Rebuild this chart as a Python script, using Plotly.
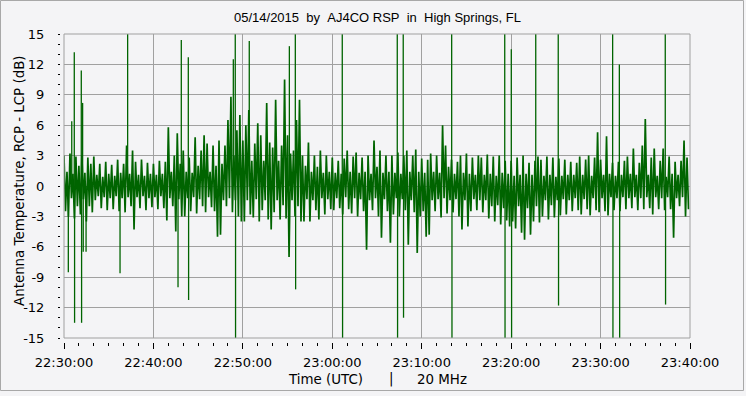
import plotly.graph_objects as go
import pandas as pd

# ---------------- data ----------------
start_time = "2015-05-14 22:30:00"
end_time = "2015-05-14 23:40:00"
band_step_s = 20  # envelope samples every 20 s; hi at t, lo at t+10 s

band_hi = [
    3.0, 1.4, 3.2, 1.2, 2.9, 2.0, 3.0, 1.3, 2.8, 2.2,
    2.9, 1.1, 2.2, 0.9, 2.4, 1.2, 2.1, 1.0, 2.6, 1.3,
    2.2, 4.0, 1.2, 3.5, 2.4, 1.1, 2.6, 1.0, 2.3, 1.2,
    2.2, 1.1, 2.5, 1.2, 2.4, 5.8, 1.4, 3.0, 5.2, 2.2,
    3.5, 1.4, 2.8, 1.3, 4.8, 2.0, 3.5, 5.0, 4.2, 1.4,
    4.0, 2.0, 4.5, 2.2, 4.0, 6.5, 8.8, 3.0, 5.5, 7.0,
    4.5, 6.0, 7.5, 2.5, 4.2, 6.2, 5.0, 2.5, 8.2, 4.3,
    3.8, 8.5, 2.5, 4.0, 10.5, 5.0, 3.2, 3.5, 6.5, 8.5,
    3.0, 2.0, 4.3, 1.4, 3.0, 1.9, 3.5, 1.3, 3.0, 1.4,
    2.8, 1.3, 2.5, 1.2, 2.7, 3.5, 1.4, 2.9, 3.3, 1.3,
    2.8, 1.4, 3.0, 1.2, 4.5, 1.9, 3.5, 1.3, 3.0, 1.4,
    3.0, 1.3, 3.3, 1.2, 3.0, 3.5, 1.4, 3.0, 3.6, 1.4,
    2.7, 1.3, 2.6, 3.2, 1.4, 3.0, 1.3, 6.0, 4.0, 1.9,
    2.6, 1.2, 2.4, 3.0, 1.3, 3.2, 1.2, 2.8, 1.1, 3.0,
    2.8, 1.1, 3.1, 1.2, 2.9, 1.0, 3.0, 1.3, 2.5, 1.2,
    2.5, 1.0, 2.8, 1.1, 3.0, 1.2, 2.3, 1.1, 2.5, 2.9,
    2.6, 1.0, 2.9, 1.1, 2.8, 0.9, 2.7, 1.0, 2.6, 1.1,
    2.4, 1.1, 2.3, 2.9, 1.1, 2.6, 3.0, 1.0, 2.8, 5.3,
    2.6, 1.1, 4.9, 1.2, 2.3, 1.0, 2.4, 1.1, 2.5, 2.9,
    1.2, 3.7, 1.1, 2.3, 4.0, 6.6, 1.1, 2.8, 3.7, 1.0,
    2.5, 3.7, 0.9, 2.9, 1.2, 2.4, 1.1, 2.5, 4.5, 2.8,
]

band_lo = [
    -2.5, -3.0, -1.2, -3.2, -2.0, -2.8, -1.3, -3.5, -2.0, -2.6,
    -1.4, -1.0, -2.2, -1.1, -2.4, -1.2, -2.3, -1.0, -2.5, -1.2,
    -2.6, -1.1, -2.0, -4.3, -1.1, -2.2, -1.0, -2.4, -1.2, -2.1,
    -1.1, -2.3, -1.0, -2.2, -3.4, -1.2, -2.0, -4.5, -1.3, -3.0,
    -3.0, -1.2, -2.5, -1.1, -2.7, -1.3, -2.0, -2.6, -1.1, -2.1,
    -2.5, -5.0, -4.8, -1.4, -2.0, -1.2, -2.6, -1.4, -3.0, -3.5,
    -3.5, -1.4, -2.8, -3.1, -1.3, -3.5, -2.4, -1.4, -3.3, -4.3,
    -2.6, -1.4, -3.3, -1.9, -3.2, -7.0, -1.4, -3.0, -2.0, -3.5,
    -3.5, -1.3, -3.5, -1.4, -2.4, -3.3, -1.2, -2.8, -1.3, -2.3,
    -2.4, -1.2, -2.2, -2.8, -1.1, -2.3, -2.7, -1.2, -3.0, -1.3,
    -2.5, -6.3, -1.4, -2.4, -1.2, -3.0, -5.1, -1.3, -2.5, -5.6,
    -2.8, -1.2, -3.0, -1.3, -2.4, -5.8, -1.4, -2.6, -6.6, -3.0,
    -2.5, -5.0, -4.8, -1.4, -2.5, -1.3, -3.1, -1.2, -2.7, -1.4,
    -2.6, -1.3, -3.0, -4.3, -1.4, -4.0, -2.5, -1.3, -2.4, -1.4,
    -2.6, -1.4, -3.2, -2.0, -3.5, -1.9, -3.8, -2.2, -3.4, -4.0,
    -3.5, -4.2, -2.0, -4.6, -5.3, -2.2, -4.8, -3.5, -2.0, -3.6,
    -3.0, -1.4, -3.3, -1.9, -3.1, -1.4, -2.9, -1.3, -2.8, -1.4,
    -2.5, -1.2, -2.4, -2.8, -1.3, -2.3, -2.9, -1.2, -2.4, -2.6,
    -1.2, -2.5, -2.9, -1.1, -2.4, -1.2, -2.5, -1.1, -2.3, -1.2,
    -2.2, -1.1, -2.4, -1.2, -2.3, -1.1, -2.2, -2.8, -1.1, -2.3,
    -1.2, -2.4, -1.1, -2.3, -5.1, -1.2, -2.0, -1.1, -3.0, -2.3,
]

# isolated spikes: seconds after 22:30:00 and value (dB); +/-16 = off scale
spike_times_s = [
    29, 52, 69, 71, 116, 118, 125, 129, 148, 376, 427,
    765, 787, 834, 836, 1136, 1149, 1151, 1243, 1512, 1552, 1554,
    1867, 1869, 2236, 2238, 2276, 2278, 2601, 2603, 2957, 2959,
    3001, 3003, 3165, 3316, 3318, 3681, 3683, 3726, 3728, 4034, 4036,
]
spike_vals = [
    -8.5, 6.4, 13.2, -13.5, 11.4, -13.5, 8.2, -6.5, -6.5, -8.6, 16,
    -10.0, 14.4, 12.7, -11.25, 12.5, 16, -16, 14.3, 13.8, 16, -10.2,
    16, -16, 16, -16, 16, -13.0, 16, -16, 16, -16,
    13.5, -16, 16, 16, -11.8, 16, -16, 12.0, -16, 16, -11.7,
]

y_ticks = [-15, -12, -9, -6, -3, 0, 3, 6, 9, 12, 15]
x_tick_labels = ["22:30:00", "22:40:00", "22:50:00", "23:00:00",
                 "23:10:00", "23:20:00", "23:30:00", "23:40:00"]

# ---------------- build series ----------------
t0 = pd.Timestamp(start_time)
band_x, band_y = [], []
for i, (h, l) in enumerate(zip(band_hi, band_lo)):
    band_x.append(t0 + pd.Timedelta(seconds=i * band_step_s))
    band_y.append(h)
    band_x.append(t0 + pd.Timedelta(seconds=i * band_step_s + band_step_s / 2))
    band_y.append(l)

spk_x, spk_y = [], []
for t, v in zip(spike_times_s, spike_vals):
    tt = t0 + pd.Timedelta(seconds=t)
    spk_x += [tt, tt, None]
    spk_y += [0, v, None]

# ---------------- layout geometry (pixels) ----------------
W, H = 746, 396
PL, PR, PT, PB = 60, 690, 34, 342      # paper area (axes incl. tick gap)
FL, FB = 64, 338                       # plot frame left / bottom
pw, ph = PR - PL, PB - PT

def px(x):
    return (x - PL) / pw

def py(y):
    return (PB - y) / ph

BG = "#f4f4f6"
GRID = "#a0a0a0"
LINE = "#006400"
FONT = "DejaVu Sans"

fig = go.Figure()
fig.add_trace(go.Scatter(x=band_x, y=band_y, mode="lines",
                         line=dict(color=LINE, width=1.7, simplify=False),
                         hoverinfo="skip", showlegend=False))
fig.add_trace(go.Scatter(x=spk_x, y=spk_y, mode="lines",
                         line=dict(color=LINE, width=1.3, simplify=False),
                         hoverinfo="skip", showlegend=False))

tickvals = [t0 + pd.Timedelta(minutes=10 * k) for k in range(len(x_tick_labels))]

fig.update_layout(
    width=W, height=H,
    margin=dict(l=PL, r=W - PR, t=PT, b=H - PB, pad=0),
    paper_bgcolor=BG, plot_bgcolor=BG,
    font=dict(family=FONT, size=12, color="#000000"),
    xaxis=dict(
        type="date",
        range=[start_time, end_time],
        domain=[(FL - PL) / pw, 1],
        anchor="free", position=0,
        tickvals=tickvals, ticktext=x_tick_labels,
        ticks="outside", ticklen=6, tickwidth=1, tickcolor="#000000",
        minor=dict(dtick=100000, ticks="outside", ticklen=3, tickcolor="#000000",
                   showgrid=False),
        showgrid=True, gridcolor=GRID, gridwidth=1,
        showline=False, zeroline=False,
        ticklabelstandoff=2,
        tickfont=dict(family=FONT, size=13),
    ),
    yaxis=dict(
        range=[-15, 15],
        domain=[(PB - FB) / ph, 1],
        anchor="free", position=0,
        tickvals=y_ticks, ticktext=[str(v) for v in y_ticks],
        ticks="outside", ticklen=2, tickwidth=1, tickcolor="#000000",
        minor=dict(dtick=1, ticks="outside", ticklen=2, tickcolor="#000000",
                   showgrid=False),
        showgrid=True, gridcolor=GRID, gridwidth=1,
        showline=False, zeroline=False,
        ticklabelstandoff=11,
        tickfont=dict(family=FONT, size=13),
    ),
)

# plot frame
fig.add_shape(type="rect", xref="x domain", yref="y domain", x0=0, x1=1, y0=0, y1=1,
              line=dict(color=GRID, width=1), layer="above")
# outer figure border
fig.add_shape(type="rect", xref="paper", yref="paper",
              x0=px(0.5), x1=px(W - 2.5), y0=py(H - 5.5), y1=py(0.5),
              line=dict(color="#a8a8a8", width=1), layer="below")

def ann(text, x, y, size=13.4, family=FONT, angle=0):
    fig.add_annotation(text=text, xref="paper", yref="paper", x=px(x), y=py(y),
                       xanchor="center", yanchor="middle", textangle=angle,
                       showarrow=False, font=dict(family=family, size=size))

ann("05/14/2015\u00a0\u00a0by\u00a0\u00a0AJ4CO RSP\u00a0\u00a0in\u00a0\u00a0High Springs, FL",
    377, 18, size=13, family="Liberation Sans")
ann("Antenna Temperature, RCP - LCP (dB)", 19, 181, angle=-90)
ann("Time (UTC)", 325, 379)
ann("|", 391, 379)
ann("20 MHz", 442, 379)

fig.write_html("out.html", config={"displayModeBar": False},
               post_script="document.body.style.margin='0px';document.body.style.overflow='hidden';")
